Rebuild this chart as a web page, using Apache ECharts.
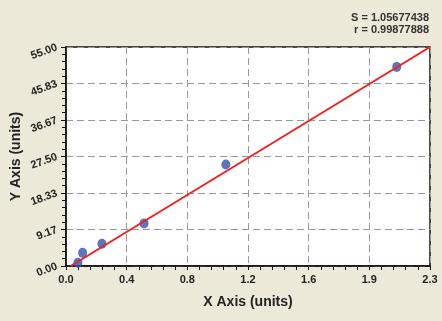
<!DOCTYPE html>
<html><head><meta charset="utf-8">
<script src="https://cdn.jsdelivr.net/npm/echarts@6/dist/echarts.min.js"></script>
<style>html,body{margin:0;padding:0;background:#ECE9D8;}#c{width:442px;height:321px;}</style>
</head><body><div id="c"></div>
<script>
var xValues = [0.075, 0.105, 0.227, 0.493, 1.010, 2.090];
var yValues = [0.8, 3.3, 5.6, 10.7, 25.5, 50.0];
var fitX = [0.03, 2.3];
var fitY = [0.0, 55.0];
var xTickLabels = ["0.0","0.4","0.8","1.2","1.6","1.9","2.3"];
var yTickLabels = ["0.00","9.17","18.33","27.50","36.67","45.83","55.00"];
var statS = "S = 1.05677438";
var statR = "r = 0.99877888";

var xMax = 2.3, yMax = 55;
var xStep = xMax / 6, yStep = yMax / 6;
var font = '"Liberation Sans", Arial, sans-serif';
var statStyle = {fontFamily: font, fontSize: 11, fontWeight: 'bold', fill: '#333', textAlign: 'right', textVerticalAlign: 'middle'};
var chart = echarts.init(document.getElementById('c'));
chart.setOption({
  backgroundColor: '#ECE9D8',
  animation: false,
  graphic: [
    {type: 'text', right: 13, top: 12, style: Object.assign({text: statS}, statStyle)},
    {type: 'text', right: 13, top: 24, style: Object.assign({text: statR}, statStyle)}
  ],
  grid: {left: 66, right: 12, top: 47, bottom: 55, containLabel: false, outerBoundsMode: 'none',
    show: true, backgroundColor: '#fff', borderColor: '#111', borderWidth: 1.5},
  xAxis: {
    type: 'value', min: 0, max: xMax, interval: xStep,
    name: 'X Axis (units)', nameLocation: 'middle', nameGap: 29, nameMoveOverlap: false,
    nameTextStyle: {fontFamily: font, fontSize: 14, fontWeight: 'bold', color: '#222'},
    axisLine: {lineStyle: {color: '#111', width: 1.5}},
    axisTick: {show: true, length: 4, lineStyle: {color: '#111'}},
    minorTick: {show: true, splitNumber: 5, length: 4, lineStyle: {color: '#111'}},
    axisLabel: {fontFamily: font, fontSize: 11, fontWeight: 'bold', color: '#222', margin: 8,
      formatter: function (v) { return xTickLabels[Math.round(v / xStep)]; }},
    splitLine: {show: true, lineStyle: {color: '#999', type: [7, 4], width: 1}}
  },
  yAxis: {
    type: 'value', min: 0, max: yMax, interval: yStep,
    name: 'Y Axis (units)', nameLocation: 'middle', nameGap: 43, nameMoveOverlap: false,
    nameTextStyle: {fontFamily: font, fontSize: 14, fontWeight: 'bold', color: '#222'},
    axisLine: {show: true, lineStyle: {color: '#111', width: 1.5}},
    axisTick: {show: true, length: 5, lineStyle: {color: '#111'}},
    minorTick: {show: true, splitNumber: 5, length: 4, lineStyle: {color: '#111'}},
    axisLabel: {fontFamily: font, fontSize: 11, fontWeight: 'bold', color: '#222', rotate: 20, margin: 9,
      formatter: function (v) { return yTickLabels[Math.round(v / yStep)]; }},
    splitLine: {show: true, lineStyle: {color: '#999', type: [7, 4], width: 1}}
  },
  series: [
    {
      type: 'scatter', symbol: 'circle', symbolSize: [9, 10],
      itemStyle: {color: '#3553A8'},
      data: xValues.map(function (x, i) { return [x, yValues[i]]; }),
      z: 3
    },
    {
      type: 'line', symbol: 'none',
      lineStyle: {color: '#F02020', width: 2},
      data: fitX.map(function (x, i) { return [x, fitY[i]]; }),
      z: 4
    }
  ]
});
</script></body></html>
